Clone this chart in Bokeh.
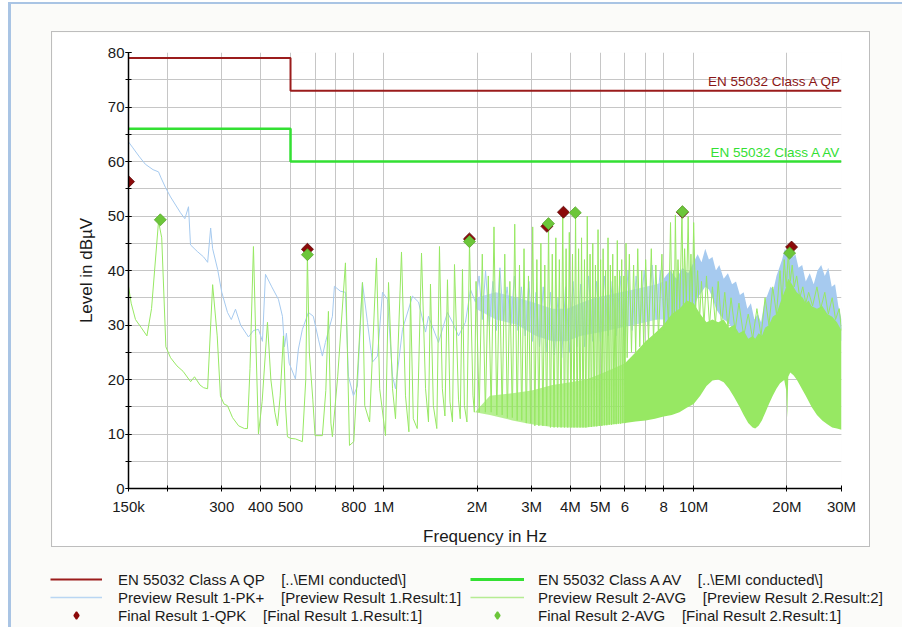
import numpy as np
from bokeh.plotting import figure
from bokeh.layouts import column
from bokeh.models import (FixedTicker, SingleIntervalTicker, Legend, LegendItem)
from bokeh.core.properties import value
from bokeh.embed import file_html
from bokeh.resources import INLINE

# ---------------- data (frequencies in MHz, levels in dBuV) ----------------
QP_LIMIT_F = [0.15, 0.5, 0.5, 30.0]
QP_LIMIT_L = [79, 79, 73, 73]
AV_LIMIT_F = [0.15, 0.5, 0.5, 30.0]
AV_LIMIT_L = [66, 66, 60, 60]

# Preview Result 1-PK+ (read point by point up to 8 MHz)
PK_F = [0.150, 0.155, 0.162, 0.170, 0.180, 0.1875, 0.191, 0.1976, 0.205, 0.2207,
        0.228, 0.2343, 0.2378, 0.250, 0.262, 0.2701, 0.2762, 0.2803, 0.2909, 0.300,
        0.3130, 0.322, 0.3322, 0.345, 0.3658, 0.380, 0.3940, 0.4059, 0.4151, 0.435,
        0.4571, 0.4709, 0.478, 0.485, 0.495, 0.5185, 0.5302, 0.5461, 0.5711, 0.5923,
        0.6150, 0.6336, 0.6479, 0.6826, 0.6928, 0.7244, 0.7520, 0.7690, 0.7980, 0.8221,
        0.8533, 0.8857, 0.9193, 0.9542, 0.9904, 1.0281, 1.0670, 1.0909, 1.1491, 1.2378,
        1.2944, 1.3638, 1.3939, 1.5011, 1.6052, 1.6661, 1.7419, 1.8344, 1.9043, 1.9761,
        2.03, 2.08, 2.13, 2.19, 2.25, 2.31, 2.37, 2.43, 2.50, 2.57,
        2.64, 2.71, 2.78, 2.86, 2.94, 3.02, 3.10, 3.18, 3.27, 3.36,
        3.45, 3.55, 3.65, 3.75, 3.86, 3.97, 4.08, 4.20, 4.32, 4.45,
        4.58, 4.72, 4.86, 5.00, 5.15, 5.30, 5.46, 5.62, 5.79, 5.96,
        6.14, 6.33, 6.52, 6.72, 6.92, 7.13, 7.35, 7.57, 7.80, 8.0]
PK_L = [63.6, 62.5, 61.0, 59.5, 58.5, 58.1, 57.0, 55.2, 53.5, 50.6,
        49.5, 51.7, 44.7, 43.5, 42.5, 41.5, 47.8, 44.0, 40.2, 36.0,
        32.3, 31.0, 32.9, 30.0, 27.8, 29.0, 29.2, 27.0, 39.3, 37.0,
        34.7, 31.6, 26.0, 28.5, 23.0, 20.1, 25.6, 29.2, 32.3, 31.6,
        27.4, 24.3, 26.8, 31.6, 37.1, 36.2, 36.0, 20.6, 17.0, 18.8,
        37.8, 30.5, 23.2, 24.3, 36.0, 34.7, 20.6, 18.3, 29.2, 35.3,
        34.2, 28.7, 31.6, 26.8, 32.3, 30.5, 28.0, 30.5, 36.5, 34.2,
        39, 31, 40, 30, 38, 29, 40.5, 31, 37, 30,
        39, 29, 37, 28, 38, 27, 36, 26, 37, 25,
        36, 24.5, 35, 24, 37, 25, 38, 26, 37.5, 26,
        39, 27, 38, 27, 39, 28, 38, 28, 39, 28,
        40, 29, 39, 30, 40, 30, 41, 31, 40, 32]

# Preview Result 1-PK+ dense parts: lower / upper edge of the filled trace
PK_BAND1_F = [1.98, 2.3, 2.7, 3.1, 3.5, 3.9, 4.3, 4.8, 5.3, 5.8, 6.4, 7.0, 7.6, 8.0]
PK_BAND1_LO = [33, 31, 30, 28, 27, 27, 28, 28.5, 29, 29.5, 30, 30.5, 31, 31]
PK_BAND1_HI = [35, 36, 35, 34, 33, 33, 34, 35, 35.5, 36, 36.5, 37, 37.5, 38]
PK_BAND2_F = [8.0, 8.4, 8.8, 9.2, 9.6, 10.0, 10.3, 10.6, 10.9, 11.2, 11.5, 11.8, 12.1,
              12.5, 12.9, 13.3, 13.7, 14.1, 14.5, 14.9, 15.3, 15.7, 16.1, 16.5, 16.9,
              17.3, 17.7, 18.1, 18.5, 18.9, 19.3, 19.7, 20.1, 20.5, 20.9, 21.3, 21.8,
              22.4, 23.0, 23.7, 24.4, 25.1, 25.8, 26.5, 27.2, 27.9, 28.6, 29.3, 30.0]
PK_BAND2_HI = [38.5, 40, 38.5, 40.5, 39.5, 41.5, 43, 41.5, 44, 42, 42.5, 40, 41,
               38.5, 39.5, 37.5, 38, 35.5, 36, 33, 34, 31, 32, 30.5, 34,
               35.5, 37, 36.5, 39, 40.5, 42, 44, 43, 45, 42.5, 43, 40.5,
               41, 38, 39.5, 37.5, 40, 41, 39, 40.5, 37, 37.5, 33.5, 31]
PK_BAND2_LO = [30, 31, 30.5, 31.5, 31.5, 33, 35, 36, 37, 36.5, 35, 33, 32,
               31, 30.5, 29.5, 29, 28, 27, 25, 24, 23, 22.5, 23, 24.5,
               26, 28, 29, 30, 31, 31.5, 32, 32, 32, 31.5, 31, 30.5,
               30, 30, 30, 30, 30, 30.5, 30, 30, 29.5, 29, 28, 27]

# Preview Result 2-AVG (peaks and troughs)
AVG_F = [0.150, 0.153, 0.158, 0.165, 0.172, 0.178, 0.1875, 0.192, 0.198, 0.205,
         0.215, 0.225, 0.238, 0.245, 0.255, 0.262, 0.270, 0.2803, 0.290, 0.297,
         0.305, 0.313, 0.325, 0.340, 0.355, 0.363, 0.370, 0.3796, 0.386, 0.394,
         0.405, 0.4213, 0.432, 0.445, 0.4538, 0.463, 0.4744, 0.482, 0.4887, 0.500,
         0.5185, 0.5461, 0.560, 0.5668, 0.575, 0.590, 0.600, 0.6336, 0.650, 0.6626,
         0.675, 0.6826, 0.710, 0.7520, 0.775, 0.800, 0.8533, 0.868, 0.900, 0.9471,
         0.970, 1.0128, 1.0357, 1.0670, 1.0909, 1.1405, 1.175, 1.205, 1.2196, 1.245,
         1.282, 1.3234, 1.3638, 1.3939, 1.4146, 1.445, 1.4828, 1.5125, 1.545, 1.575,
         1.6052, 1.635, 1.6661, 1.6910, 1.7419, 1.765, 1.7944, 1.820, 1.855, 1.8902,
         1.940, 1.960,
         1.985, 2.032, 2.079, 2.127, 2.174, 2.221, 2.268, 2.316, 2.363, 2.410,
         2.457, 2.505, 2.552, 2.599, 2.646, 2.694, 2.741, 2.788, 2.835, 2.883,
         2.930, 2.977, 3.024, 3.072, 3.119, 3.166, 3.213, 3.261, 3.308, 3.355,
         3.402, 3.450, 3.497, 3.544, 3.591, 3.639, 3.686, 3.733, 3.780, 3.828,
         3.875, 3.922, 3.969, 4.017, 4.064, 4.111, 4.158, 4.206, 4.253, 4.300,
         4.347, 4.395, 4.442, 4.489, 4.536, 4.584, 4.631, 4.678, 4.725, 4.773,
         4.820, 4.867, 4.914, 4.962, 5.009, 5.056, 5.103, 5.151, 5.198, 5.245,
         5.292, 5.340, 5.387, 5.434, 5.481, 5.529, 5.576, 5.623, 5.670, 5.718,
         5.765, 5.812, 5.859, 5.907, 5.954, 6.001, 6.048, 6.100,
         6.2, 6.3, 6.4, 6.5, 6.6, 6.7, 6.8, 6.9, 7.0, 7.15,
         7.3, 7.42, 7.55, 7.7, 7.9, 8.02, 8.15, 8.3, 8.42, 8.52,
         8.6, 8.66, 8.73, 8.82, 8.9, 9.02, 9.17, 9.26, 9.35, 9.47,
         9.6, 9.7, 9.8, 9.9, 10.0, 10.15, 10.3, 10.45, 10.6, 10.8,
         11.0, 11.25, 11.5, 11.75, 12.0, 12.3, 12.6, 12.9, 13.2, 13.6,
         14.0, 14.5, 15.0, 15.5, 16.0, 16.5, 17.0, 17.5, 18.0, 18.5,
         19.0, 19.3, 19.6, 19.9, 20.2, 20.5, 20.8, 21.1, 21.5, 22.0,
         22.5, 23.0, 23.5, 24.2, 25.0, 25.7, 26.5, 27.2, 28.0, 28.7,
         29.5, 30.0]
AVG_L = [37.1, 34.0, 31.0, 29.5, 28.0, 33.0, 49.0, 46.0, 26.0, 24.0,
         22.5, 21.5, 19.6, 20.5, 19.0, 18.5, 18.3, 37.4, 28.0, 17.0,
         15.5, 15.2, 13.0, 11.5, 11.0, 11.0, 22.0, 44.4, 28.0, 10.0,
         16.0, 30.5, 20.0, 14.0, 11.5, 17.0, 28.0, 15.0, 9.5, 9.2,
         9.1, 8.6, 20.0, 43.0, 25.0, 16.4, 9.7, 9.7, 18.0, 32.5,
         12.0, 9.5, 20.6, 41.4, 7.9, 8.6, 37.8, 15.2, 12.2, 42.3,
         18.3, 9.7, 37.8, 18.3, 12.8, 43.4, 17.0, 10.4, 35.3, 12.8,
         11.0, 43.2, 18.3, 12.2, 37.5, 15.2, 11.0, 44.4, 18.3, 13.3,
         38.3, 15.9, 12.2, 41.1, 16.4, 12.8, 40.2, 15.2, 12.2, 45.2,
         17.0, 14.0,
         38, 14, 43, 14, 39, 14, 48, 13.5, 40, 13.5,
         43, 13, 38, 13, 48.5, 12.5, 41, 12.5, 44, 12,
         39, 12, 48, 11.5, 42, 11.5, 45, 11.5, 41, 11.5,
         48.6, 11.2, 43, 11.2, 46, 11.2, 42, 11.2, 50.5, 11.2,
         44, 11.2, 47, 11.2, 43, 11.2, 50.6, 11.2, 44, 11.2,
         46, 11.2, 42, 11.2, 50, 11.3, 43, 11.3, 45, 11.4,
         41, 11.4, 47.5, 11.5, 42, 11.5, 44, 11.6, 40, 11.6,
         46, 11.7, 41, 11.7, 43, 11.8, 39, 11.8, 45.5, 11.9,
         40, 11.9, 42, 12, 39, 12, 45, 24,
         43, 25, 41, 25, 44, 26, 40, 26, 42, 27,
         44, 27, 41, 28, 43, 29, 38, 30, 48.8, 31,
         40, 31, 50.2, 32, 42, 33, 50.8, 33, 44, 34,
         49.9, 34, 43, 34, 48.8, 33, 40, 31, 38, 30,
         39, 30, 37, 30, 38, 30, 36, 29.5, 35, 29,
         34, 28, 32, 27.5, 33, 28, 35, 30, 37, 32,
         40, 34, 42, 37, 43, 38, 41, 37, 39, 35,
         37, 34, 36, 33.5, 37, 33, 36, 32, 35, 31,
         33, 29]

# Preview Result 2-AVG dense parts: floor / top of the filled trace
AVG_BAND1_F = [1.97, 2.2, 2.6, 3.0, 3.5, 4.0, 4.5, 5.0, 5.5, 6.0]
AVG_BAND1_LO = [14, 13.5, 12.5, 11.8, 11.3, 11.2, 11.2, 11.5, 11.8, 12.0]
AVG_BAND1_HI = [14, 17, 17.5, 18, 19, 19.5, 20, 21, 22, 23]
AVG_BAND2_F = [6.0, 6.5, 7.0, 7.5, 8.0, 8.5, 9.0, 9.5, 10.0, 10.5, 11.0, 11.5, 12.0,
               12.5, 13.0, 13.5, 14.0, 14.5, 15.0, 15.5, 15.8, 16.2, 16.6, 17.0,
               17.5, 18.0, 18.5, 19.0, 19.6, 19.9, 20.05, 20.2, 20.5, 21.0, 21.5,
               22.0, 22.5, 23.0, 23.5, 24.0, 25.0, 26.0, 27.0, 28.0, 29.0, 30.0]
AVG_BAND2_LO = [12.0, 12.3, 12.5, 12.8, 13.2, 13.5, 14, 14.8, 15.5, 17, 18.8, 19.8,
                20.0, 19.5, 18.3, 16.8, 15.2, 13.5, 12.0, 11.2, 11.0, 11.5, 12.5,
                13.8, 15.5, 17.0, 18.3, 19.3, 19.9, 18, 13, 20.5, 21.3, 20.8, 20,
                19.0, 18, 17.0, 16, 15.0, 13.5, 12.5, 11.8, 11.2, 11.0, 10.8]
AVG_BAND2_HI = [23, 25, 27, 28.5, 30, 32, 33, 34.5, 34, 32, 30.5, 31, 30.5, 31,
                29.5, 30, 28.5, 29, 27.5, 28, 27.5, 28.5, 28, 29.5, 30, 31.5, 32,
                34, 36, 37, 38, 38.5, 38, 37, 36, 35.5, 35, 34, 34.5, 33.5, 33,
                33.5, 32, 31.5, 30.5, 29]

# Final results
QPK_F = [0.150, 0.567, 1.89, 3.36, 3.80, 9.20, 20.7]
QPK_L = [56.3, 43.9, 45.8, 48.1, 50.7, 50.7, 44.3]
AVGM_F = [0.190, 0.567, 1.89, 3.40, 4.15, 9.20, 20.4]
AVGM_L = [49.3, 42.9, 45.3, 48.6, 50.6, 50.8, 43.2]

X_TICKS = [150e3, 200e3, 300e3, 400e3, 500e3, 600e3, 700e3, 800e3, 1e6,
           2e6, 3e6, 4e6, 5e6, 6e6, 7e6, 8e6, 10e6, 20e6, 30e6]
X_TICK_LABELS = ["150k", "", "300", "400", "500", "", "", "800", "1M",
                 "2M", "3M", "4M", "5M", "6", "", "8", "10M", "20M", "30M"]

LIMIT_NAMES = ["EN 55032 Class A QP", "EN 55032 Class A AV"]
LEGEND_LABELS = [
    "EN 55032 Class A QP    [..\\EMI conducted\\]",
    "Preview Result 1-PK+    [Preview Result 1.Result:1]",
    "Final Result 1-QPK    [Final Result 1.Result:1]",
    "EN 55032 Class A AV    [..\\EMI conducted\\]",
    "Preview Result 2-AVG    [Preview Result 2.Result:2]",
    "Final Result 2-AVG    [Final Result 2.Result:1]",
]

# ---------------- styling ----------------
MHZ = 1e6
FONT = "Liberation Sans"
BLUE = "#a6caef"
GREEN = "#97e863"
QP_COLOR = "#9b1c1c"
AV_COLOR = "#33e033"
QPK_MARK = "#8c0a0a"
AVG_MARK = "#6cc63a"
GRID = "#c6c6c6"
PAGE_BG = "#fbfbf9"


def hz(v):
    return np.asarray(v, dtype=float) * MHZ


p = figure(width=819, height=516, x_axis_type="log",
           x_range=(150e3, 30e6), y_range=(0, 80),
           output_backend="svg", toolbar_location=None,
           min_border_left=76, min_border_right=30,
           min_border_top=20, min_border_bottom=58,
           border_fill_color="white", background_fill_color="white",
           styles={"border": "1px solid #bdbdbd"}, margin=(27, 0, 0, 40))
p.outline_line_color = None
p.frame_align = False

# traces
p.varea(x=hz(PK_BAND1_F), y1=PK_BAND1_LO, y2=PK_BAND1_HI, fill_color=BLUE, fill_alpha=0.7)
p.varea(x=hz(PK_BAND2_F), y1=PK_BAND2_LO, y2=PK_BAND2_HI, fill_color=BLUE, fill_alpha=1)
p.line(hz(PK_F), PK_L, line_color=BLUE, line_width=1)
p.varea(x=hz(AVG_BAND1_F), y1=AVG_BAND1_LO, y2=AVG_BAND1_HI, fill_color=GREEN, fill_alpha=0.7)
p.varea(x=hz(AVG_BAND2_F), y1=AVG_BAND2_LO, y2=AVG_BAND2_HI, fill_color=GREEN, fill_alpha=1)
p.line(hz(AVG_F), AVG_L, line_color=GREEN, line_width=1)

# limits
p.line(hz(QP_LIMIT_F), QP_LIMIT_L, line_color=QP_COLOR, line_width=2)
p.line(hz(AV_LIMIT_F), AV_LIMIT_L, line_color=AV_COLOR, line_width=2.5)

p.text(x=[hz(QP_LIMIT_F)[-1]], y=[QP_LIMIT_L[-1]], text=[LIMIT_NAMES[0]],
       text_align="right", text_baseline="bottom", y_offset=-2,
       text_font=value(FONT), text_font_size="13.5px", text_color="#8a1616")
p.text(x=[hz(AV_LIMIT_F)[-1]], y=[AV_LIMIT_L[-1]], text=[LIMIT_NAMES[1]],
       text_align="right", text_baseline="bottom", y_offset=-2,
       text_font=value(FONT), text_font_size="13.5px", text_color=AV_COLOR)

# final results
p.scatter(hz(QPK_F), QPK_L, marker="square", angle=np.pi / 4, size=8.5,
          fill_color=QPK_MARK, line_color="#5a0505", line_width=0.8)
p.scatter(hz(AVGM_F), AVGM_L, marker="square", angle=np.pi / 4, size=8.5,
          fill_color=AVG_MARK, line_color="#5aa82e", line_width=0.8)

# axes
xt = FixedTicker(ticks=X_TICKS, minor_ticks=[])
p.xaxis.ticker = xt
p.xgrid.ticker = xt
p.xaxis.major_label_overrides = dict(zip(X_TICKS, X_TICK_LABELS))
yt = SingleIntervalTicker(interval=10, num_minor_ticks=2)
p.yaxis.ticker = yt
p.ygrid.ticker = yt

p.xgrid.grid_line_color = GRID
p.ygrid.grid_line_color = GRID
p.ygrid.minor_grid_line_color = GRID

p.xaxis.axis_label = "Frequency in Hz"
p.yaxis.axis_label = "Level in dBµV"
for ax in (p.xaxis[0], p.yaxis[0]):
    ax.axis_line_color = "black"
    ax.axis_line_width = 1.5
    ax.major_tick_line_color = "black"
    ax.minor_tick_line_color = "black"
    ax.major_tick_in = 3
    ax.major_tick_out = 3
    ax.minor_tick_in = 3
    ax.minor_tick_out = 3
    ax.major_label_text_font = FONT
    ax.major_label_text_font_size = "15px"
    ax.major_label_text_color = "#1a1a1a"
    ax.axis_label_text_font = FONT
    ax.axis_label_text_font_size = "17px"
    ax.axis_label_text_font_style = "normal"
    ax.axis_label_text_color = "#1a1a1a"
p.xaxis.minor_tick_line_color = None
p.xaxis.major_label_standoff = 6
p.xaxis.axis_label_standoff = 9
p.yaxis.major_label_standoff = 1
p.yaxis.axis_label_standoff = 9

# ---------------- legend area (separate strip below the chart box) ----------------
lf = figure(width=891, height=75, x_range=(0, 1), y_range=(0, 1),
            x_axis_location=None, y_axis_location=None,
            output_backend="svg", toolbar_location=None, min_border=0,
            border_fill_color=PAGE_BG, background_fill_color=PAGE_BG,
            margin=(5, 0, 0, 0))
lf.grid.visible = False
lf.outline_line_color = None
lf.frame_align = False

# legend-key renderers (points kept outside the visible range)
g_qp = lf.line(x=[-1, -2], y=[-1, -2], line_color=QP_COLOR, line_width=2)
g_pk = lf.line(x=[-1, -2], y=[-1, -2], line_color="#b9d6f3", line_width=1.5)
g_qpk = lf.scatter(x=[-1], y=[-1], marker="diamond",
                   fill_color=QPK_MARK, line_color=QPK_MARK, line_width=1.5)
g_av = lf.line(x=[-1, -2], y=[-1, -2], line_color=AV_COLOR, line_width=3)
g_avg = lf.line(x=[-1, -2], y=[-1, -2], line_color="#b5ec93", line_width=1.5)
g_avgm = lf.scatter(x=[-1], y=[-1], marker="diamond",
                    fill_color=AVG_MARK, line_color=AVG_MARK, line_width=1.5)


def make_legend(items, x, glyph_w, standoff):
    return Legend(items=items, location=(x, 3), orientation="vertical",
                  glyph_width=glyph_w, glyph_height=18, label_height=18,
                  label_standoff=standoff, spacing=0, padding=0, margin=0,
                  border_line_color=None, background_fill_alpha=0,
                  label_text_font=FONT, label_text_font_size="15px",
                  label_text_color="#1a1a1a")


lf.add_layout(make_legend([LegendItem(label=LEGEND_LABELS[0], renderers=[g_qp]),
                           LegendItem(label=LEGEND_LABELS[1], renderers=[g_pk]),
                           LegendItem(label=LEGEND_LABELS[2], renderers=[g_qpk])],
                          39, 52, 16))
lf.add_layout(make_legend([LegendItem(label=LEGEND_LABELS[3], renderers=[g_av]),
                           LegendItem(label=LEGEND_LABELS[4], renderers=[g_avg]),
                           LegendItem(label=LEGEND_LABELS[5], renderers=[g_avgm])],
                          459, 54, 14))

root = column(p, lf, margin=(2, 0, 0, 8),
              styles={"background-color": PAGE_BG,
                      "border-left": "3px solid #a9c4e4",
                      "border-top": "2px solid #a9c4e4"})

open("out.html", "w").write(file_html(root, INLINE))
